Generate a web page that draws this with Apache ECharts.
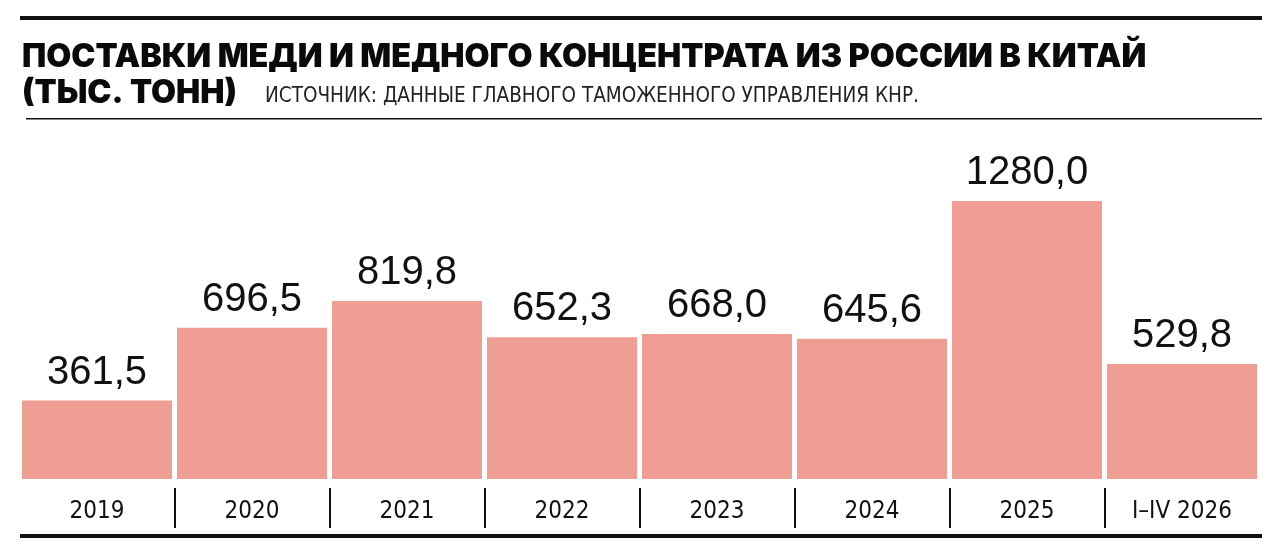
<!DOCTYPE html>
<html>
<head>
<meta charset="utf-8">
<script src="https://cdn.jsdelivr.net/npm/echarts@6/dist/echarts.min.js"></script>
<style>
  html, body { margin: 0; padding: 0; background: #fff; }
  #myChart { width: 1280px; height: 556px; }
</style>
</head>
<body>
<div id="myChart"></div>
<script>
// данные: поставки меди, тыс. тонн
var categories = ['2019', '2020', '2021', '2022', '2023', '2024', '2025', 'I\u2013IV 2026'];
var values = [361.5, 696.5, 819.8, 652.3, 668.0, 645.6, 1280.0, 529.8];

var titleLine1 = 'ПОСТАВКИ МЕДИ И МЕДНОГО КОНЦЕНТРАТА ИЗ РОССИИ В КИТАЙ';
var titleLine2 = '(ТЫС. ТОНН)';
var sourceText = 'ИСТОЧНИК: ДАННЫЕ ГЛАВНОГО ТАМОЖЕННОГО УПРАВЛЕНИЯ КНР.';

var condensed = '"DejaVu Sans Condensed", "Roboto Condensed", Roboto, sans-serif';

var myChart = echarts.init(document.getElementById('myChart'));
var option = {
    backgroundColor: '#fff',
    animation: false,
    title: [
        {
            text: titleLine1,
            left: 22, top: 41, padding: 0,
            textStyle: { fontFamily: 'Inter', fontWeight: 900, fontSize: 32.3, color: '#0a0a0a' }
        },
        {
            text: titleLine2,
            left: 22, top: 77, padding: 0,
            textStyle: { fontFamily: 'Inter', fontWeight: 900, fontSize: 32.3, color: '#0a0a0a' }
        },
        {
            text: sourceText,
            left: 265, top: 86, padding: 0,
            textStyle: { fontFamily: condensed, fontWeight: 'normal', fontSize: 20.5, color: '#222' }
        }
    ],
    grid: [
        { left: 19.5, right: 20.5, top: 201, bottom: 77 },
        { left: 19.5, right: 20.5, top: 488, height: 40 }
    ],
    xAxis: [
        {
            type: 'category',
            gridIndex: 0,
            data: categories,
            axisLine: { show: false },
            axisTick: { show: false },
            axisLabel: {
                margin: 21,
                fontFamily: condensed,
                fontSize: 24,
                color: '#111'
            }
        },
        {
            type: 'category',
            gridIndex: 1,
            data: categories,
            axisLine: { show: false },
            axisTick: { show: false },
            axisLabel: { show: false },
            splitLine: {
                show: true,
                showMinLine: false,
                showMaxLine: false,
                lineStyle: { color: '#111', width: 2 }
            }
        }
    ],
    yAxis: [
        { type: 'value', gridIndex: 0, min: 0, max: 1280, show: false },
        { type: 'value', gridIndex: 1, show: false }
    ],
    series: [
        {
            type: 'bar',
            data: values,
            barWidth: 150,
            itemStyle: { color: '#EE9E92' },
            label: {
                show: true,
                position: 'top',
                distance: 8,
                fontFamily: 'Liberation Sans',
                fontSize: 40,
                color: '#111',
                formatter: function (p) {
                    return p.value.toFixed(1).replace('.', ',');
                }
            }
        }
    ],
    graphic: [
        { type: 'rect', shape: { x: 20, y: 16, width: 1242, height: 4 }, style: { fill: '#111' } },
        { type: 'rect', shape: { x: 26, y: 118, width: 1236, height: 1.5 }, style: { fill: '#111' } },
        { type: 'rect', shape: { x: 20, y: 534, width: 1242, height: 4 }, style: { fill: '#111' } }
    ]
};
myChart.setOption(option);
</script>
</body>
</html>
